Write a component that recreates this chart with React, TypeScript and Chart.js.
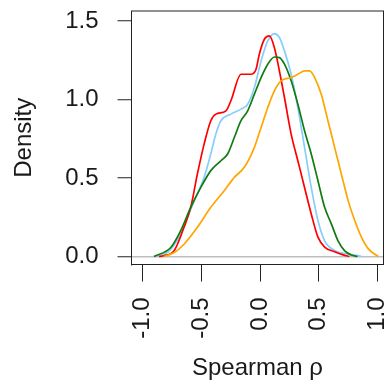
import React, { useEffect, useRef } from "react";
import { Chart, registerables } from "chart.js";

Chart.register(...registerables);

// Density curves (x: Spearman rho, y: density)
const redX = [-0.86, -0.818, -0.73, -0.647, -0.59, -0.533, -0.476, -0.419, -0.376, -0.29, -0.248, -0.162, -0.077, -0.034, -0.006, 0.037, 0.08, 0.122, 0.165, 0.208, 0.265, 0.322, 0.379, 0.436, 0.493, 0.55, 0.635, 0.707, 0.76];
const redY = [0.0, 0.005, 0.038, 0.186, 0.313, 0.526, 0.716, 0.865, 0.907, 0.928, 0.992, 1.161, 1.161, 1.193, 1.289, 1.384, 1.405, 1.331, 1.182, 1.013, 0.78, 0.61, 0.44, 0.271, 0.123, 0.06, 0.03, 0.01, 0.0];

const blueX = [-0.87, -0.78, -0.675, -0.59, -0.533, -0.476, -0.419, -0.376, -0.333, -0.248, -0.162, -0.105, -0.048, 0.009, 0.066, 0.122, 0.165, 0.208, 0.265, 0.322, 0.379, 0.436, 0.493, 0.55, 0.635, 0.75, 0.835, 0.87];
const blueY = [0.0, 0.03, 0.144, 0.3, 0.4, 0.504, 0.653, 0.78, 0.865, 0.907, 0.939, 0.97, 1.076, 1.246, 1.373, 1.42, 1.395, 1.31, 1.161, 0.949, 0.695, 0.44, 0.229, 0.1, 0.038, 0.015, 0.005, 0.0];

const greenX = [-0.903, -0.76, -0.675, -0.59, -0.504, -0.419, -0.333, -0.276, -0.219, -0.162, -0.105, -0.048, 0.009, 0.066, 0.122, 0.165, 0.208, 0.265, 0.322, 0.379, 0.436, 0.493, 0.55, 0.607, 0.664, 0.721, 0.778, 0.83];
const greenY = [0.0, 0.057, 0.165, 0.313, 0.44, 0.547, 0.61, 0.653, 0.758, 0.865, 0.928, 1.034, 1.14, 1.225, 1.271, 1.267, 1.225, 1.119, 0.97, 0.801, 0.653, 0.483, 0.313, 0.208, 0.1, 0.036, 0.01, 0.0];

const orangeX = [-0.818, -0.73, -0.647, -0.533, -0.419, -0.305, -0.219, -0.134, -0.048, 0.009, 0.066, 0.122, 0.179, 0.265, 0.322, 0.379, 0.422, 0.465, 0.521, 0.578, 0.635, 0.692, 0.75, 0.806, 0.863, 0.92, 1.006];
const orangeY = [0.0, 0.025, 0.078, 0.186, 0.313, 0.419, 0.504, 0.568, 0.695, 0.822, 0.949, 1.055, 1.119, 1.14, 1.161, 1.182, 1.182, 1.14, 1.034, 0.865, 0.695, 0.526, 0.356, 0.229, 0.123, 0.05, 0.0];

const xTicks = [-1.0, -0.5, 0.0, 0.5, 1.0];
const yTicks = [0.0, 0.5, 1.0, 1.5];
const xRange = [-1.094, 1.051];
const yRange = [-0.051, 1.564];

const FONT = "'Liberation Sans', Arial, sans-serif";
const TEXT = "#1a1a1a";
const AXIS = "#222222";

const pts = (xs: number[], ys: number[]) => xs.map((x, i) => ({ x, y: ys[i] }));

const framePlugin = {
  id: "frame",
  afterDraw(chart: any) {
    const { ctx, chartArea: a } = chart;
    ctx.save();
    ctx.strokeStyle = AXIS;
    ctx.lineWidth = 1;
    ctx.strokeRect(a.left, a.top, a.right - a.left, a.bottom - a.top);
    ctx.restore();
  },
};

export default function App() {
  const ref = useRef<HTMLCanvasElement | null>(null);

  useEffect(() => {
    if (!ref.current) return;
    const mk = (label: string, xs: number[], ys: number[], color: string) => ({
      label,
      data: pts(xs, ys),
      borderColor: color,
      backgroundColor: color,
      borderWidth: 1.7,
      pointRadius: 0,
      fill: false,
      cubicInterpolationMode: "monotone" as const,
    });
    const chart = new Chart(ref.current, {
      type: "line",
      data: {
        datasets: [
          mk("orange", orangeX, orangeY, "#FFA500"),
          mk("green", greenX, greenY, "#117A11"),
          mk("red", redX, redY, "#FF0000"),
          mk("blue", blueX, blueY, "#87CEFA"),
        ],
      },
      options: {
        responsive: false,
        animation: false,
        layout: { padding: { left: 0, right: 3.5, top: 11, bottom: 0 } },
        plugins: { legend: { display: false }, tooltip: { enabled: false } },
        scales: {
          x: {
            type: "linear",
            position: "bottom",
            min: xRange[0],
            max: xRange[1],
            afterBuildTicks: (s: any) => {
              s.ticks = xTicks.map((v) => ({ value: v }));
            },
            afterFit: (s: any) => {
              s.height = 124.5;
              s.paddingLeft = 0;
              s.paddingRight = 0;
            },
            grid: {
              drawOnChartArea: false,
              tickLength: 17,
              tickColor: AXIS,
              tickWidth: 1,
            },
            border: { display: true, color: AXIS, width: 1 },
            ticks: {
              minRotation: 90,
              maxRotation: 90,
              padding: 16,
              color: TEXT,
              font: { family: FONT, size: 24 },
              callback: (v: any) => Number(v).toFixed(1),
            },
            title: {
              display: true,
              text: "Spearman ρ",
              color: TEXT,
              font: { family: FONT, size: 24 },
              padding: { top: 0, bottom: 6 },
            },
          },
          y: {
            type: "linear",
            position: "left",
            min: yRange[0],
            max: yRange[1],
            afterBuildTicks: (s: any) => {
              s.ticks = yTicks.map((v) => ({ value: v }));
            },
            afterFit: (s: any) => {
              s.width = 131.5;
              s.paddingTop = 0;
              s.paddingBottom = 0;
            },
            grid: {
              drawOnChartArea: true,
              color: (c: any) => (c.tick && c.tick.value === 0 ? "#BEBEBE" : "rgba(0,0,0,0)"),
              lineWidth: 1.5,
              tickLength: 14,
              tickColor: AXIS,
              tickWidth: 1,
            },
            border: { display: true, color: AXIS, width: 1 },
            ticks: {
              padding: 19,
              color: TEXT,
              font: { family: FONT, size: 24 },
              callback: (v: any) => Number(v).toFixed(1),
            },
            title: {
              display: true,
              text: "Density",
              color: TEXT,
              font: { family: FONT, size: 24 },
              padding: { top: 10, bottom: 0 },
            },
          },
        },
      },
      plugins: [framePlugin],
    });
    return () => chart.destroy();
  }, []);

  return (
    <div style={{ position: "fixed", left: 0, top: 0, width: 387, height: 389, background: "#fff" }}>
      <canvas ref={ref} width={387} height={389} />
    </div>
  );
}
